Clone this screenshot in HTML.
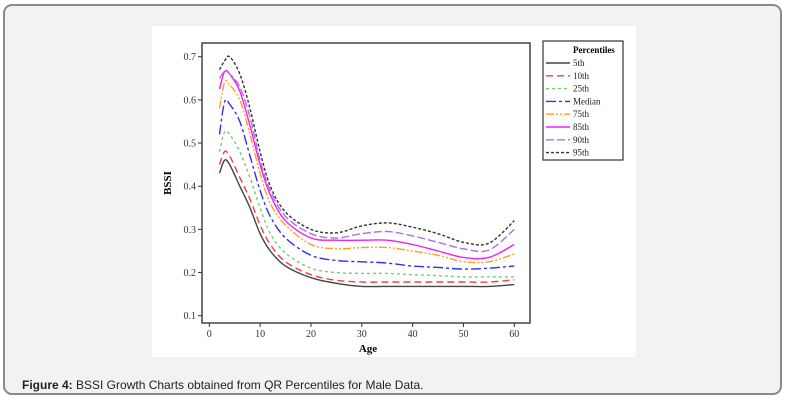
<!DOCTYPE html>
<html><head><meta charset="utf-8"><style>
body{margin:0;background:#fff;width:792px;height:405px;overflow:hidden;font-family:"Liberation Sans",sans-serif}
#card{position:absolute;left:3px;top:4px;width:779px;height:391px;box-sizing:border-box;border:2px solid #8a8a8a;border-radius:9px;background:#f2f2f2}
#panel{position:absolute;left:152px;top:26px;width:484px;height:331px;background:#fff}
#cap{position:absolute;left:22px;top:378px;font-size:12px;color:#222}
</style></head><body>
<div id="card"></div>
<div id="panel"></div>
<svg id="chart" width="792" height="405" style="position:absolute;left:0;top:0"></svg>
<div id="cap"><b>Figure 4:</b> BSSI Growth Charts obtained from QR Percentiles for Male Data.</div>
<script>
const ages=[2,3,4,6,8,10,12,15,20,25,30,35,40,45,50,55,60];
const p95=[.67,.69,.70,.66,.58,.48,.40,.34,.30,.292,.308,.315,.305,.29,.27,.268,.32];
const p90=[.65,.665,.66,.63,.56,.46,.39,.33,.29,.28,.29,.295,.285,.27,.255,.252,.30];
const p85=[.625,.665,.66,.62,.54,.45,.38,.32,.28,.275,.275,.275,.265,.25,.235,.235,.265];
const p75=[.58,.64,.635,.60,.52,.43,.36,.31,.265,.255,.258,.258,.25,.24,.225,.225,.243];
const p50=[.52,.595,.59,.55,.47,.39,.33,.28,.24,.228,.225,.222,.215,.212,.208,.21,.215];
const p25=[.48,.525,.52,.48,.42,.35,.29,.245,.21,.20,.198,.198,.195,.193,.19,.19,.19];
const p10=[.45,.48,.47,.42,.37,.31,.265,.225,.195,.182,.178,.178,.178,.178,.178,.178,.183];
const p05=[.43,.46,.45,.40,.35,.29,.25,.215,.188,.175,.168,.168,.168,.168,.168,.168,.172];
const xTicks=[0,10,20,30,40,50,60];
const yTicks=[0.1,0.2,0.3,0.4,0.5,0.6,0.7];
const legendLabels=["5th","10th","25th","Median","75th","85th","90th","95th"];
const NS="http://www.w3.org/2000/svg";
const svg=document.getElementById('chart');
const X=a=>209.3+a*5.083, Y=v=>56.7+(0.7-v)*431.7;
function mk(t,at,p){const e=document.createElementNS(NS,t);for(const k in at)e.setAttribute(k,at[k]);(p||svg).appendChild(e);return e;}
function smooth(pts){let d='M'+pts[0][0].toFixed(1)+','+pts[0][1].toFixed(1);
for(let i=0;i<pts.length-1;i++){const p0=pts[Math.max(i-1,0)],p1=pts[i],p2=pts[i+1],p3=pts[Math.min(i+2,pts.length-1)];
const c1=[p1[0]+(p2[0]-p0[0])/6,p1[1]+(p2[1]-p0[1])/6],c2=[p2[0]-(p3[0]-p1[0])/6,p2[1]-(p3[1]-p1[1])/6];
d+='C'+c1[0].toFixed(1)+','+c1[1].toFixed(1)+' '+c2[0].toFixed(1)+','+c2[1].toFixed(1)+' '+p2[0].toFixed(1)+','+p2[1].toFixed(1);}
return d;}
const f=mk('rect',{x:202,y:43,width:328,height:280,fill:'none',stroke:'#444','stroke-width':1.5});


xTicks.forEach(t=>{mk('line',{x1:X(t),x2:X(t),y1:323,y2:327,stroke:'#333'});
const tx=mk('text',{x:X(t),y:337,'text-anchor':'middle','font-size':10,'font-family':'Liberation Serif',fill:'#333'});tx.textContent=t;

});
yTicks.forEach(t=>{mk('line',{x1:198,x2:202,y1:Y(t),y2:Y(t),stroke:'#333'});
const tx=mk('text',{x:196,y:Y(t)+3.5,'text-anchor':'end','font-size':10,'font-family':'Liberation Serif',fill:'#333'});tx.textContent=t.toFixed(1);

});
const xt=mk('text',{x:368,y:352,'text-anchor':'middle','font-size':11,'font-weight':'bold','font-family':'Liberation Serif'});xt.textContent='Age';


const yt=mk('text',{x:0,y:0,transform:'translate(171,183) rotate(-90)','text-anchor':'middle','font-size':11,'font-weight':'bold','font-family':'Liberation Serif'});yt.textContent='BSSI';


const series=[p05,p10,p25,p50,p75,p85,p90,p95];
const colors=['#444','#f04040','#70d070','#3030f0','#ffa020','#f020f0','#b070e0','#333'];
const dashes=['','7,4','3,3','10,3,3,3','8,2,2,2,2,2','','8,3','3,2'];
series.forEach((s,i)=>{
const pts=s.map((v,j)=>[X(ages[j]),Y(v)]);
const p=mk('path',{d:smooth(pts),fill:'none',stroke:colors[i],'stroke-width':1.4,'stroke-dasharray':dashes[i],'stroke-linejoin':'round'});

});
const lg=mk('g',{});


mk('rect',{x:543,y:41,width:80,height:119,fill:'#fff',stroke:'#333','stroke-width':1.2},lg);
const lt=mk('text',{x:573,y:53,'font-size':9,'font-weight':'bold','font-family':'Liberation Serif'},lg);lt.textContent='Percentiles';
legendLabels.forEach((l,i)=>{const y=66+i*12.8;
mk('line',{x1:546,x2:570,y1:y-3,y2:y-3,stroke:colors[i],'stroke-width':1.4,'stroke-dasharray':dashes[i]},lg);
const t=mk('text',{x:573,y:y,'font-size':9,'font-family':'Liberation Serif',fill:'#222'},lg);t.textContent=l;

});
</script>
</body></html>
